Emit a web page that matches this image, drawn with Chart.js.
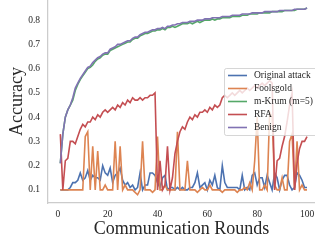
<!DOCTYPE html>
<html>
<head>
<meta charset="utf-8">
<script src="https://cdn.jsdelivr.net/npm/chart.js@4"></script>
<style>
  html, body { margin: 0; padding: 0; background: #fff; overflow: hidden; }
  #wrap { width: 315px; height: 244px; position: relative; }
</style>
</head>
<body>
<div id="wrap"><canvas id="chart"></canvas></div>
<script>
// communication rounds 1..100
const rounds = [
  1,2,3,4,5,6,7,8,9,10,11,12,13,14,15,16,17,18,19,20,
  21,22,23,24,25,26,27,28,29,30,31,32,33,34,35,36,37,38,39,40,
  41,42,43,44,45,46,47,48,49,50,51,52,53,54,55,56,57,58,59,60,
  61,62,63,64,65,66,67,68,69,70,71,72,73,74,75,76,77,78,79,80,
  81,82,83,84,85,86,87,88,89,90,91,92,93,94,95,96,97,98,99,100
];

const origAttack = [
  0.10,0.10,0.10,0.10,0.11,0.13,0.13,0.14,0.17,0.14,
  0.15,0.18,0.14,0.16,0.15,0.15,0.14,0.20,0.17,0.16,
  0.19,0.13,0.16,0.17,0.19,0.14,0.12,0.13,0.11,0.12,
  0.10,0.11,0.17,0.10,0.12,0.12,0.17,0.17,0.16,0.13,
  0.11,0.15,0.16,0.10,0.11,0.11,0.10,0.11,0.10,0.11,
  0.10,0.10,0.11,0.11,0.13,0.17,0.11,0.12,0.13,0.10,
  0.14,0.12,0.16,0.11,0.10,0.20,0.13,0.11,0.11,0.11,
  0.11,0.11,0.10,0.16,0.10,0.11,0.10,0.16,0.17,0.12,
  0.15,0.15,0.11,0.16,0.13,0.10,0.17,0.15,0.10,0.14,
  0.16,0.16,0.12,0.10,0.11,0.17,0.16,0.14,0.11,0.11
];

const foolsgold = [
  0.10,0.10,0.10,0.10,0.10,0.10,0.10,0.10,0.10,0.10,
  0.32,0.34,0.10,0.28,0.10,0.26,0.10,0.10,0.12,0.10,
  0.10,0.10,0.30,0.10,0.28,0.10,0.12,0.10,0.10,0.10,
  0.09,0.08,0.10,0.30,0.10,0.10,0.10,0.09,0.10,0.32,
  0.10,0.10,0.12,0.10,0.10,0.10,0.10,0.34,0.10,0.10,
  0.10,0.22,0.10,0.10,0.10,0.09,0.10,0.11,0.10,0.10,
  0.12,0.10,0.10,0.10,0.10,0.09,0.10,0.10,0.10,0.10,
  0.10,0.09,0.10,0.10,0.11,0.10,0.13,0.10,0.22,0.40,
  0.10,0.10,0.12,0.10,0.42,0.40,0.12,0.10,0.10,0.15,
  0.10,0.10,0.30,0.33,0.10,0.30,0.10,0.12,0.10,0.10
];

const mKrum = [
  0.21,0.33,0.40,0.43,0.45,0.47,0.51,0.535,0.555,0.57,
  0.585,0.60,0.605,0.615,0.63,0.64,0.645,0.655,0.66,0.66,
  0.675,0.68,0.685,0.69,0.695,0.70,0.705,0.71,0.71,0.72,
  0.725,0.725,0.735,0.74,0.745,0.745,0.75,0.755,0.755,0.76,
  0.76,0.765,0.76,0.77,0.77,0.775,0.77,0.775,0.78,0.785,
  0.785,0.785,0.79,0.785,0.79,0.795,0.79,0.795,0.80,0.80,
  0.80,0.805,0.80,0.805,0.805,0.81,0.81,0.81,0.81,0.815,
  0.815,0.815,0.815,0.82,0.82,0.82,0.825,0.825,0.825,0.825,
  0.83,0.83,0.83,0.83,0.83,0.835,0.835,0.835,0.835,0.835,
  0.84,0.84,0.84,0.84,0.84,0.845,0.845,0.845,0.845,0.85
];

const rfa = [
  0.33,0.10,0.22,0.23,0.30,0.30,0.29,0.32,0.35,0.37,
  0.36,0.38,0.38,0.40,0.39,0.41,0.40,0.42,0.43,0.42,
  0.43,0.44,0.43,0.45,0.44,0.46,0.45,0.47,0.46,0.48,
  0.47,0.47,0.48,0.47,0.48,0.48,0.49,0.49,0.50,0.10,
  0.22,0.10,0.12,0.28,0.10,0.15,0.25,0.30,0.34,0.36,
  0.35,0.38,0.40,0.39,0.41,0.40,0.42,0.42,0.43,0.42,
  0.44,0.43,0.45,0.44,0.45,0.48,0.49,0.48,0.49,0.50,
  0.49,0.50,0.51,0.50,0.51,0.52,0.51,0.52,0.53,0.52,
  0.53,0.54,0.53,0.54,0.55,0.54,0.10,0.22,0.23,0.28,
  0.32,0.38,0.45,0.50,0.10,0.21,0.27,0.30,0.30,0.32
];

const benign = [
  0.21,0.33,0.40,0.43,0.45,0.48,0.52,0.54,0.56,0.575,
  0.59,0.605,0.61,0.625,0.635,0.645,0.65,0.66,0.665,0.665,
  0.68,0.685,0.69,0.70,0.70,0.705,0.71,0.715,0.715,0.725,
  0.73,0.73,0.74,0.745,0.75,0.75,0.755,0.76,0.76,0.765,
  0.765,0.77,0.765,0.775,0.775,0.78,0.78,0.785,0.785,0.79,
  0.79,0.79,0.795,0.795,0.795,0.80,0.80,0.80,0.805,0.805,
  0.805,0.81,0.81,0.81,0.81,0.815,0.815,0.815,0.815,0.82,
  0.82,0.82,0.82,0.825,0.825,0.825,0.825,0.83,0.83,0.83,
  0.83,0.83,0.835,0.835,0.835,0.835,0.835,0.835,0.84,0.84,
  0.84,0.84,0.84,0.84,0.845,0.845,0.845,0.845,0.845,0.85
];

const xTicks = [0, 20, 40, 60, 80, 100];
const yTicks = [0.1, 0.2, 0.3, 0.4, 0.5, 0.6, 0.7, 0.8];

const serif = "'Liberation Serif', 'Times New Roman', serif";
const inkColor = '#262626';

function pts(values) {
  return values.map((v, i) => ({ x: rounds[i], y: v }));
}

function series(label, values, color, order) {
  return {
    label: label,
    data: pts(values),
    borderColor: color,
    backgroundColor: color,
    borderWidth: 1.6,
    pointRadius: 0,
    tension: 0,
    order: order,
  };
}

// the plot runs to the edges of the picture, so drop the label overhang padding
function noPad(s) {
  s.paddingTop = 0;
  s.paddingBottom = 0;
  s.paddingLeft = 0;
  s.paddingRight = 0;
}

// legend box drawn inside the plot, upper right, like matplotlib's
const boxLegend = {
  id: 'boxLegend',
  afterDatasetsDraw(chart) {
    const ctx = chart.ctx;
    const x0 = 224.5, y0 = 68.5, w = 100, h = 67;
    ctx.save();
    ctx.fillStyle = 'rgba(255,255,255,0.8)';
    ctx.strokeStyle = 'rgba(204,204,204,0.8)';
    ctx.lineWidth = 1;
    ctx.beginPath();
    ctx.roundRect(x0, y0, w, h, 2);
    ctx.fill();
    ctx.stroke();
    ctx.font = '9.5px ' + serif;
    ctx.textBaseline = 'middle';
    ctx.fillStyle = inkColor;
    chart.data.datasets.forEach((ds, i) => {
      const y = 75.5 + i * 13;
      ctx.strokeStyle = ds.borderColor;
      ctx.lineWidth = 1.6;
      ctx.beginPath();
      ctx.moveTo(228, y);
      ctx.lineTo(247, y);
      ctx.stroke();
      ctx.fillText(ds.label, 254, y);
    });
    ctx.restore();
  }
};

new Chart(document.getElementById('chart'), {
  type: 'line',
  data: {
    datasets: [
      series('Original attack', origAttack, '#4c72b0', 4),
      series('Foolsgold', foolsgold, '#dd8452', 3),
      series('m-Krum (m=5)', mKrum, '#55a868', 2),
      series('RFA', rfa, '#c44e52', 1),
      series('Benign', benign, '#8172b3', 0),
    ]
  },
  options: {
    responsive: true,
    maintainAspectRatio: false,
    animation: false,
    layout: { padding: 0 },
    plugins: {
      legend: { display: false },
      tooltip: { enabled: false },
    },
    scales: {
      x: {
        type: 'linear',
        min: -3.95,
        max: 103.2,
        afterBuildTicks: (s) => { s.ticks = xTicks.map(v => ({ value: v })); },
        afterFit: (s) => { s.height = 41; noPad(s); },
        grid: { display: false, drawTicks: false },
        border: { display: true, color: '#cccccc', width: 1.25 },
        ticks: {
          padding: 6,
          color: inkColor,
          font: { family: serif, size: 9.5 },
          callback: (v) => String(v),
        },
        title: {
          display: true,
          text: 'Communication Rounds',
          color: inkColor,
          font: { family: serif, size: 18 },
          padding: { top: 0, bottom: 4 },
        },
      },
      y: {
        type: 'linear',
        min: 0.046,
        max: 0.883,
        afterBuildTicks: (s) => { s.ticks = yTicks.map(v => ({ value: v })); },
        afterFit: (s) => { s.width = 48; noPad(s); },
        grid: { display: false, drawTicks: false },
        border: { display: true, color: '#cccccc', width: 1.25 },
        ticks: {
          padding: 8,
          color: inkColor,
          font: { family: serif, size: 9.5 },
          callback: (v) => Number(v).toFixed(1),
        },
        title: {
          display: true,
          text: 'Accuracy',
          color: inkColor,
          font: { family: serif, size: 18 },
          padding: { top: 6, bottom: 0 },
        },
      },
    },
  },
  plugins: [boxLegend],
});
</script>
</body>
</html>
